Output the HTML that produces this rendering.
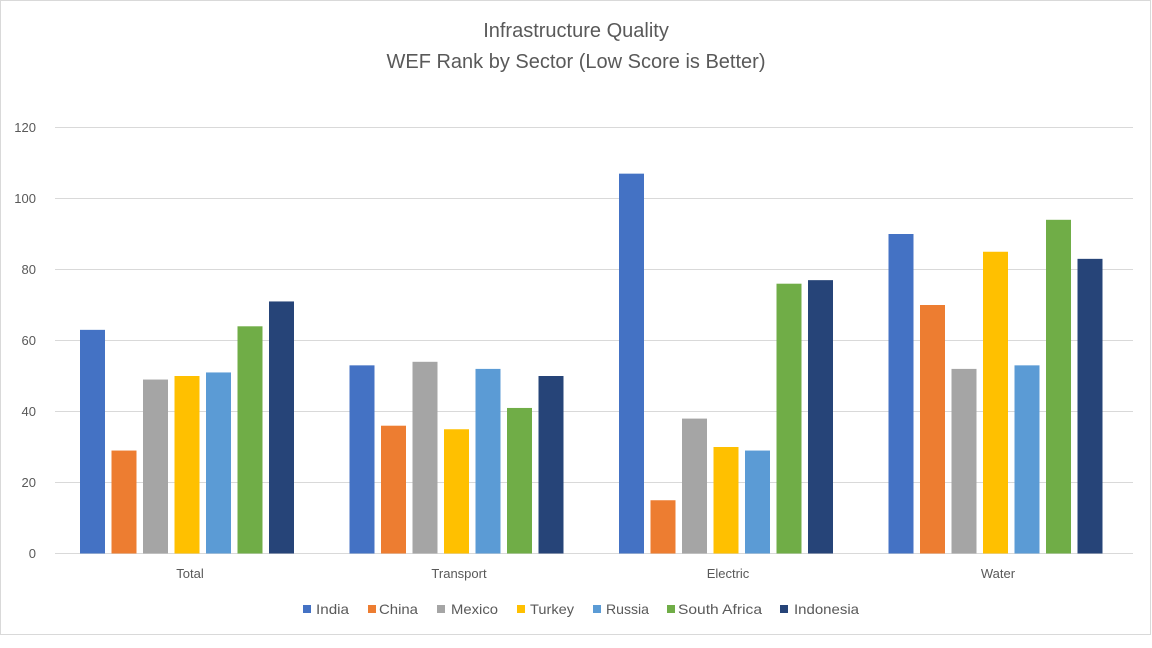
<!DOCTYPE html>
<html><head><meta charset="utf-8"><style>
html,body{margin:0;padding:0;background:#fff;}
svg{display:block;font-family:"Liberation Sans",sans-serif;}
</style></head><body>
<svg width="1152" height="648" viewBox="0 0 1152 648" xmlns="http://www.w3.org/2000/svg">
<rect x="0.5" y="0.5" width="1150" height="634" fill="#fff" stroke="#d9d9d9"/>
<text x="576" y="37" text-anchor="middle" font-size="20" fill="#595959">Infrastructure Quality</text>
<text x="576" y="68" text-anchor="middle" font-size="20" fill="#595959">WEF Rank by Sector (Low Score is Better)</text>
<g stroke="#d9d9d9" stroke-width="1">
<line x1="55" x2="1133" y1="127.5" y2="127.5"/>
<line x1="55" x2="1133" y1="198.5" y2="198.5"/>
<line x1="55" x2="1133" y1="269.5" y2="269.5"/>
<line x1="55" x2="1133" y1="340.5" y2="340.5"/>
<line x1="55" x2="1133" y1="411.5" y2="411.5"/>
<line x1="55" x2="1133" y1="482.5" y2="482.5"/>
<line x1="55" x2="1133" y1="553.5" y2="553.5"/>
</g>
<g font-size="13" fill="#595959" text-anchor="end">
<text x="36" y="132">120</text><text x="36" y="203">100</text><text x="36" y="274">80</text>
<text x="36" y="345">60</text><text x="36" y="416">40</text><text x="36" y="487">20</text><text x="36" y="558">0</text>
</g>
<g font-size="13" fill="#595959" text-anchor="middle">
<text x="190" y="578">Total</text><text x="459" y="578">Transport</text>
<text x="728" y="578">Electric</text><text x="998" y="578">Water</text>
</g>
<g>
<rect x="80" y="329.85" width="25" height="223.65" fill="#4472C4"/>
<rect x="111.5" y="450.55" width="25" height="102.95" fill="#ED7D31"/>
<rect x="143" y="379.55" width="25" height="173.95" fill="#A5A5A5"/>
<rect x="174.5" y="376" width="25" height="177.5" fill="#FFC000"/>
<rect x="206" y="372.45" width="25" height="181.05" fill="#5B9BD5"/>
<rect x="237.5" y="326.3" width="25" height="227.2" fill="#70AD47"/>
<rect x="269" y="301.45" width="25" height="252.05" fill="#264478"/>

<rect x="349.5" y="365.35" width="25" height="188.15" fill="#4472C4"/>
<rect x="381" y="425.7" width="25" height="127.8" fill="#ED7D31"/>
<rect x="412.5" y="361.8" width="25" height="191.7" fill="#A5A5A5"/>
<rect x="444" y="429.25" width="25" height="124.25" fill="#FFC000"/>
<rect x="475.5" y="368.9" width="25" height="184.6" fill="#5B9BD5"/>
<rect x="507" y="407.95" width="25" height="145.55" fill="#70AD47"/>
<rect x="538.5" y="376" width="25" height="177.5" fill="#264478"/>

<rect x="619" y="173.65" width="25" height="379.85" fill="#4472C4"/>
<rect x="650.5" y="500.25" width="25" height="53.25" fill="#ED7D31"/>
<rect x="682" y="418.6" width="25" height="134.9" fill="#A5A5A5"/>
<rect x="713.5" y="447" width="25" height="106.5" fill="#FFC000"/>
<rect x="745" y="450.55" width="25" height="102.95" fill="#5B9BD5"/>
<rect x="776.5" y="283.7" width="25" height="269.8" fill="#70AD47"/>
<rect x="808" y="280.15" width="25" height="273.35" fill="#264478"/>

<rect x="888.5" y="234" width="25" height="319.5" fill="#4472C4"/>
<rect x="920" y="305" width="25" height="248.5" fill="#ED7D31"/>
<rect x="951.5" y="368.9" width="25" height="184.6" fill="#A5A5A5"/>
<rect x="983" y="251.75" width="25" height="301.75" fill="#FFC000"/>
<rect x="1014.5" y="365.35" width="25" height="188.15" fill="#5B9BD5"/>
<rect x="1046" y="219.8" width="25" height="333.7" fill="#70AD47"/>
<rect x="1077.5" y="258.85" width="25" height="294.65" fill="#264478"/>
</g>
<g font-size="14" fill="#595959">
<rect x="303" y="605" width="8" height="8" fill="#4472C4"/><text x="316" y="614" textLength="33" lengthAdjust="spacingAndGlyphs">India</text>
<rect x="368" y="605" width="8" height="8" fill="#ED7D31"/><text x="379" y="614" textLength="39" lengthAdjust="spacingAndGlyphs">China</text>
<rect x="437" y="605" width="8" height="8" fill="#A5A5A5"/><text x="451" y="614" textLength="47" lengthAdjust="spacingAndGlyphs">Mexico</text>
<rect x="517" y="605" width="8" height="8" fill="#FFC000"/><text x="530" y="614" textLength="44" lengthAdjust="spacingAndGlyphs">Turkey</text>
<rect x="593" y="605" width="8" height="8" fill="#5B9BD5"/><text x="606" y="614" textLength="43" lengthAdjust="spacingAndGlyphs">Russia</text>
<rect x="667" y="605" width="8" height="8" fill="#70AD47"/><text x="678" y="614" textLength="84" lengthAdjust="spacingAndGlyphs">South Africa</text>
<rect x="780" y="605" width="8" height="8" fill="#264478"/><text x="794" y="614" textLength="65" lengthAdjust="spacingAndGlyphs">Indonesia</text>
</g>
</svg>
</body></html>
